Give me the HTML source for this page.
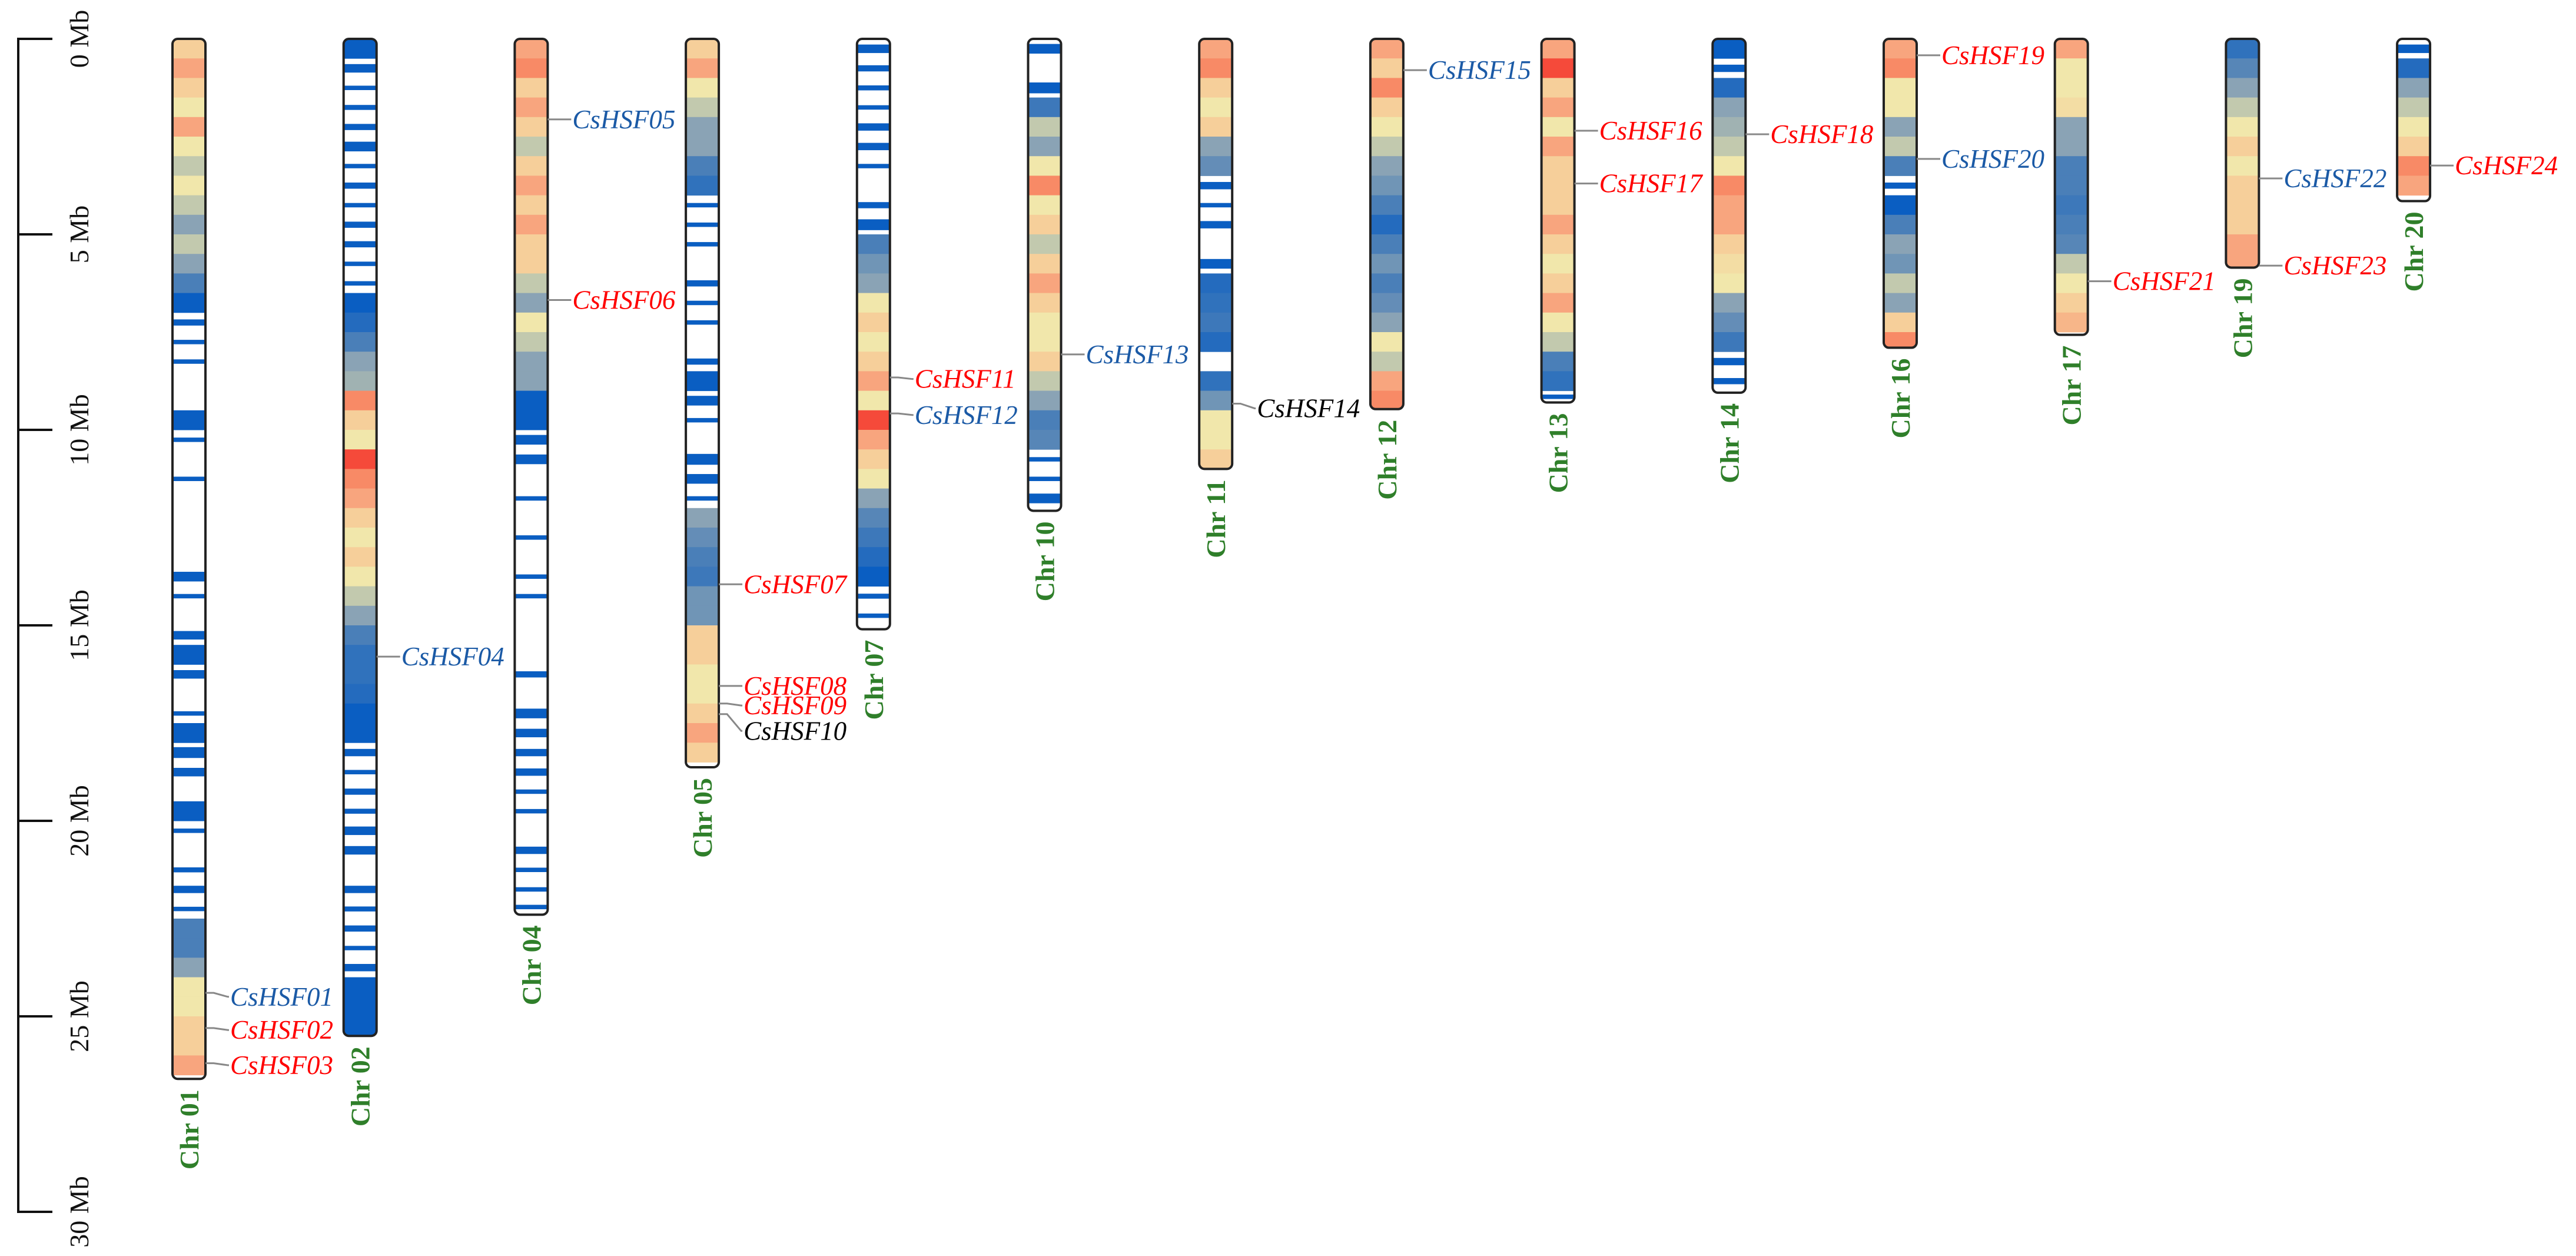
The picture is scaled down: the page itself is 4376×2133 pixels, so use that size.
<!DOCTYPE html>
<html><head><meta charset="utf-8"><style>
html,body{margin:0;padding:0;background:#fff;}
svg{display:block;}
</style></head><body>
<svg id="chart" width="4376" height="2133" viewBox="0 0 4376 2133" xmlns="http://www.w3.org/2000/svg">
<g id="axis"></g>
<g id="chroms"></g>
<g id="genes"></g>
</svg>
<script>
const chrNames = ["Chr 01","Chr 02","Chr 04","Chr 05","Chr 07","Chr 10","Chr 11","Chr 12","Chr 13","Chr 14","Chr 16","Chr 17","Chr 19","Chr 20"];
const chrLengths = [26.6,25.5,22.4,18.63,15.1,12.07,11.0,9.47,9.3,9.05,7.9,7.57,5.85,4.15];
const binSize = 0.5;
const dens01 = [3.5,4,3.5,3,4,3,2.5,3,2.5,2,2.5,2,1.5,1, 0.5,0.3,0.3,0,0,1,0.2,0,0.2,0,0,0,0, 0.8,0.2,0,0.7,1,0.7,0,0.2,1,0.9,0.7,0,1,0.3,0,0.4,0.6,0.2, 1.5,1.5,2,3,3,3.5,3.5,4];
const dens02 = [1,0.7,0.2,0.4,0.5,0.8,0.3,0.5,0.2,0.5,0.5,0.2,0.3,1,1.2,1.5,2,2.2,4.5,3.5,3,5,4.5,4,3.5,3,3.5,3,2.5,2,1.5,1.3,1.3,1.2,1,1,0.6,0.3,0.5,0.4,0.7,0.7,0,0.6,0.4,0.5,0.2,0.6,1,1,1];
const dens04 = [4,4.5,3.5,4,3.5,2.5,3.5,4,3.5,4,3.5,3.5,2.5,2,3,2.5,2,2,1,1,0.8,0.8,0,0.2,0,0.2,0,0.2,0.2,0,0,0,0.5,0,0.8,0.7,0.6,0.6,0.2,0.2,0,0.6,0.2,0.3,0.2];
const dens05 = [3.5,4,3,2.5,2,2,1.5,1.3,0.3,0.3,0.3,0,0.5,0.3,0.2,0,0.5,1,0.8,0.3,0,0.9,0.8,0.3,2,1.7,1.5,1.4,1.8,1.8,3.5,3.5,3,3,3.5,4,3.5];
const dens07 = [0.7,0.5,0.4,0.3,0.6,0.6,0.2,0,0.5,0.9,1.5,1.8,2,3,3.5,3,3.5,4,3,5,4,3.5,3,2,1.6,1.4,1.2,1,0.4,0.1];
const dens10 = [0.8,0,0.9,1.4,2.5,2,3,4.5,3,3.5,2.5,3.5,4,3.5,3,3,3.5,2.5,2,1.5,1.6,0.3,0.3,0.8];
const dens11 = [4,4.5,3.5,3,3.5,2,1.7,0.6,0.3,0.6,0,0.8,1.2,1.3,1.4,1.2,0,1.3,1.8,3,3,3.5];
const dens12 = [4,3.5,4.5,3.5,3,2.5,2,1.8,1.5,1.2,1.5,1.8,1.5,1.7,2,3,2.5,4,4.5];
const dens13 = [4,5,3.5,4,3,4,3.5,3.5,3.5,4,3.5,3,3.5,4,3,2.5,1.5,1.3,0.4];
const dens14 = [1,0.6,1.2,2,2.2,2.5,3,4.5,4,4,3.5,3.2,3,2,1.7,1.4,0.6,0.5];
const dens16 = [4,4.5,3,3,2,2.5,1.5,0.5,1,1.5,2,1.8,2.5,2,3.5,4.5];
const dens17 = [4,3,3,3.2,2,2,1.5,1.5,1.4,1.5,1.6,2.5,3,3.5,3.8];
const dens19 = [1.3,1.6,2,2.5,3,3.5,3,3.5,3.5,3.5,4,4];
const dens20 = [0.7,1.2,2,2.5,3,3.5,4.5,4];
const densities = [dens01,dens02,dens04,dens05,dens07,dens10,dens11,dens12,dens13,dens14,dens16,dens17,dens19,dens20];

const geneNames = ["CsHSF01","CsHSF02","CsHSF03","CsHSF04","CsHSF05","CsHSF06","CsHSF07","CsHSF08","CsHSF09","CsHSF10","CsHSF11","CsHSF12","CsHSF13","CsHSF14","CsHSF15","CsHSF16","CsHSF17","CsHSF18","CsHSF19","CsHSF20","CsHSF21","CsHSF22","CsHSF23","CsHSF24"];
const geneChr = [0,0,0,1,2,2,3,3,3,3,4,4,5,6,7,8,8,9,10,10,11,12,12,13];
const genePos = [24.4,25.3,26.2,15.8,2.06,6.68,13.95,16.55,17.0,17.27,8.66,9.58,8.07,9.33,0.8,2.35,3.7,2.44,0.42,3.07,6.2,3.57,5.8,3.24];
const geneLabelPos = [24.5,25.35,26.25,15.8,2.06,6.68,13.95,16.55,17.05,17.7,8.7,9.62,8.07,9.45,0.8,2.35,3.7,2.44,0.42,3.07,6.2,3.57,5.8,3.24];
const geneGroup = ["b","r","r","b","b","r","r","r","r","k","r","b","b","k","b","r","r","r","r","b","r","b","r","r"];
const axisTicks = [0,5,10,15,20,25,30];

const NS="http://www.w3.org/2000/svg";
const Y0=66, PX=66.4, X0=321, DX=290.7, W=56;
const yS = mb => Y0 + mb*PX;
const xS = i => X0 + i*DX;
const groupColor = {b:"#1b5aa6", r:"#ff0000", k:"#000000"};
const stops = [[1,[10,94,194]],[1.5,[74,127,184]],[2,[138,163,181]],[2.5,[194,201,174]],[3,[241,231,171]],[3.5,[246,207,154]],[4,[248,165,126]],[4.5,[248,138,102]],[5,[245,74,58]]];
function col(v){
  if(v<=1) return "rgb(10,94,194)";
  for(let k=0;k<stops.length-1;k++){
    const a=stops[k],b=stops[k+1];
    if(v<=b[0]){const t=(v-a[0])/(b[0]-a[0]);return "rgb("+a[1].map((c,j)=>Math.round(c+(b[1][j]-c)*t)).join(",")+")";}
  }
  return "rgb(245,74,58)";
}
function mk(tag,attrs,parent){const e=document.createElementNS(NS,tag);for(const k in attrs)e.setAttribute(k,attrs[k]);parent.appendChild(e);return e;}

const axis=document.getElementById("axis");
const axLine=mk("line",{x1:31,x2:31,y1:yS(0),y2:yS(30),stroke:"#111","stroke-width":4},axis);


axisTicks.forEach(t=>{
  const tk=mk("line",{x1:29,x2:89,y1:yS(t),y2:yS(t),stroke:"#111","stroke-width":4},axis);
  
  
  const tx=mk("text",{x:0,y:0,transform:"translate(150,"+yS(t)+") rotate(-90)","text-anchor":"middle","font-family":"Liberation Serif, serif","font-size":46,fill:"#111"},axis);
  tx.textContent=t+" Mb";
  
  
});

const chroms=document.getElementById("chroms");
const defs=mk("defs",{},chroms);
chrNames.forEach((nm,i)=>{
  const g=mk("g",{},chroms);
  
  
  const x=xS(i)-W/2, top=yS(0), bot=yS(chrLengths[i]);
  const cp=mk("clipPath",{id:"cp"+i},defs);
  mk("rect",{x:x,y:top,width:W,height:bot-top,rx:9},cp);
  const inner=mk("g",{"clip-path":"url(#cp"+i+")"},g);
  mk("rect",{x:x,y:top,width:W,height:bot-top,fill:"#fff"},inner);
  densities[i].forEach((v,b)=>{
    const s=b*binSize, e=Math.min((b+1)*binSize,chrLengths[i]);
    if(e<=s||v<=0) return;
    let y1=yS(s), h=yS(e)-y1;
    if(v<1){const hh=Math.max(7,h*v*0.6);y1=y1+(h-hh)/2;h=hh;}
    const r=mk("rect",{x:x,y:y1,width:W,height:h+0.5,fill:col(v)},inner);
    
    
  });
  const out=mk("rect",{x:x,y:top,width:W,height:bot-top,rx:9,fill:"none",stroke:"#222","stroke-width":4},g);
  
  
  const lb=mk("text",{x:0,y:0,transform:"translate("+(xS(i)+16)+","+(bot+18)+") rotate(-90)","text-anchor":"end","font-family":"Liberation Serif, serif","font-weight":"bold","font-size":46,fill:"#2f7f2a"},g);
  lb.textContent=nm;
  
  
});

const genes=document.getElementById("genes");
geneNames.forEach((nm,k)=>{
  const i=geneChr[k], xr=xS(i)+W/2, ya=yS(genePos[k]), yl=yS(geneLabelPos[k]);
  const pl=mk("polyline",{points:xr+","+ya+" "+(xr+14)+","+ya+" "+(xr+38)+","+yl+" "+(xr+40)+","+yl,fill:"none",stroke:"#888","stroke-width":3},genes);
  
  
  const t=mk("text",{x:xr+42,y:yl+15,"font-family":"Liberation Serif, serif","font-style":"italic","font-size":45,fill:groupColor[geneGroup[k]]},genes);
  t.textContent=nm;
  
  
});
</script>
</body></html>
